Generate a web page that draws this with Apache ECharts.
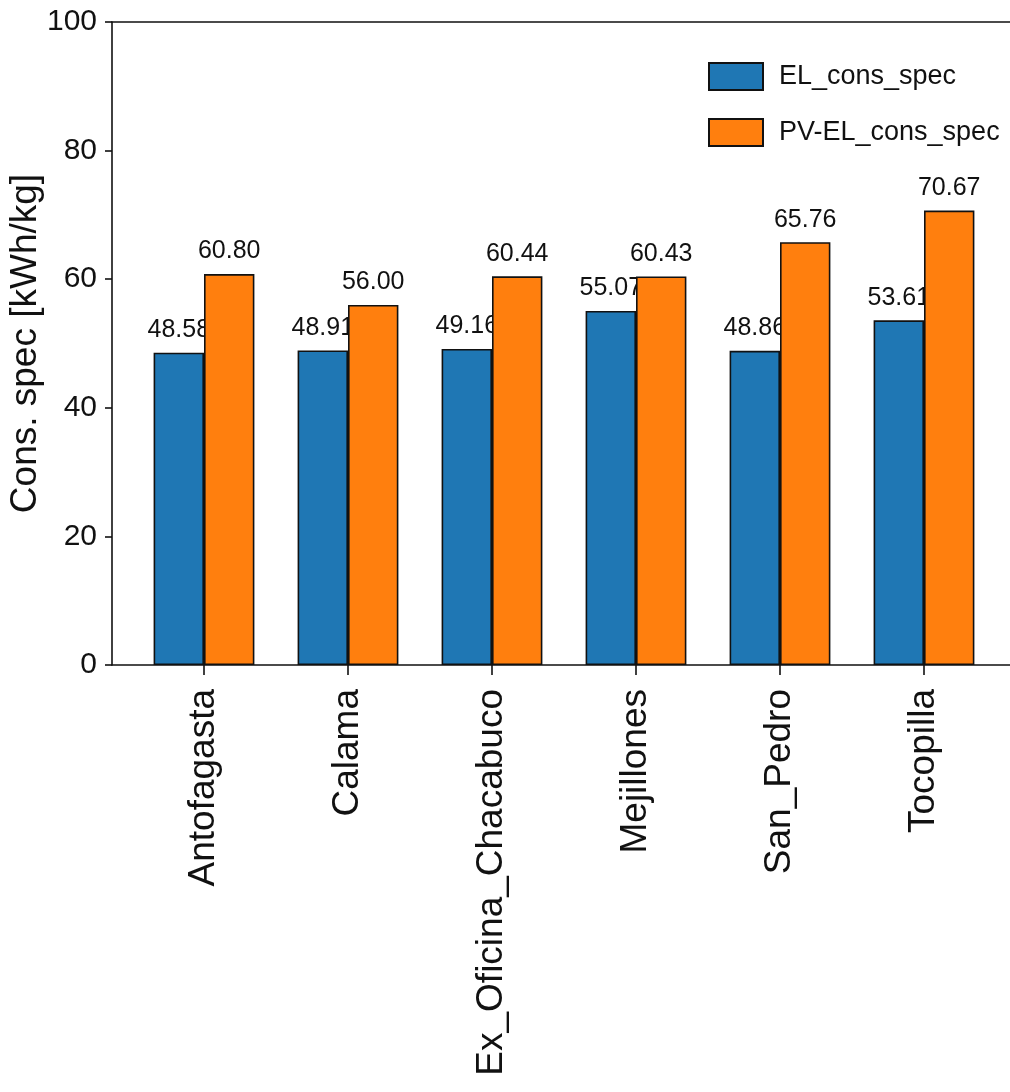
<!DOCTYPE html>
<html>
<head>
<meta charset="utf-8">
<script src="https://cdn.jsdelivr.net/npm/echarts@6/dist/echarts.min.js"></script>
<style>
  html, body { margin: 0; padding: 0; background: #fff; }
  #chart { width: 1010px; height: 1092px; }
</style>
</head>
<body>
<div id="chart"></div>
<script>
// Specific electricity consumption per site
const sites = ['Antofagasta', 'Calama', 'Ex_Oficina_Chacabuco', 'Mejillones', 'San_Pedro', 'Tocopilla'];
const elConsSpec = [48.58, 48.91, 49.16, 55.07, 48.86, 53.61];
const pvElConsSpec = [60.80, 56.00, 60.44, 60.43, 65.76, 70.67];
const yTicks = [0, 20, 40, 60, 80, 100];

const SANS = '"Liberation Sans", Arial, sans-serif';

const chart = echarts.init(document.getElementById('chart'), null, { renderer: 'canvas' });

const barLabel = {
  show: true,
  position: 'top',
  distance: 10,
  formatter: p => p.value.toFixed(2),
  fontFamily: SANS,
  fontSize: 25,
  color: '#111'
};

chart.setOption({
  animation: false,
  backgroundColor: '#fff',
  grid: [
    // frame grid: spines and y scale
    { left: 112, right: -5, top: 22, bottom: 427, containLabel: false, outerBoundsMode: 'none' },
    // bar grid: one band per site
    { left: 132, width: 864, top: 22, bottom: 427, containLabel: false, outerBoundsMode: 'none' }
  ],
  legend: {
    orient: 'vertical',
    left: 703,
    top: 57,
    itemWidth: 54,
    itemHeight: 27,
    itemGap: 27,
    icon: 'rect',
    textStyle: { fontFamily: SANS, fontSize: 27, color: '#111', padding: [0, 0, 0, 11] },
    data: ['EL_cons_spec', 'PV-EL_cons_spec']
  },
  xAxis: [
    {
      gridIndex: 0, type: 'value', min: 0, max: 1, position: 'bottom',
      axisLine: { show: true, lineStyle: { color: '#111', width: 1.6 } },
      axisTick: { show: false }, axisLabel: { show: false }, splitLine: { show: false }
    },
    {
      gridIndex: 0, type: 'value', min: 0, max: 1, position: 'top',
      axisLine: { show: true, lineStyle: { color: '#111', width: 1.6 } },
      axisTick: { show: false }, axisLabel: { show: false }, splitLine: { show: false }
    },
    {
      gridIndex: 1, type: 'category', data: sites, position: 'bottom',
      axisLine: { show: false },
      axisTick: { show: true, alignWithLabel: true, length: 10, lineStyle: { color: '#111', width: 1.6 } },
      axisLabel: { rotate: 90, margin: 24, interval: 0, fontFamily: SANS, fontSize: 37, color: '#111' },
      splitLine: { show: false }
    }
  ],
  yAxis: [
    {
      gridIndex: 0, type: 'value', min: yTicks[0], max: yTicks[yTicks.length - 1], interval: 20,
      name: 'Cons. spec [kWh/kg]', nameLocation: 'middle', nameGap: 68, nameMoveOverlap: false,
      nameTextStyle: { fontFamily: SANS, fontSize: 37, color: '#111' },
      axisLine: { show: true, lineStyle: { color: '#111', width: 1.6 } },
      axisTick: { show: true, length: 7, lineStyle: { color: '#111', width: 1.6 } },
      axisLabel: { margin: 15, fontFamily: SANS, fontSize: 30, color: '#111' },
      splitLine: { show: false }
    },
    {
      gridIndex: 1, type: 'value', min: yTicks[0], max: yTicks[yTicks.length - 1],
      show: false
    }
  ],
  series: [
    {
      name: 'EL_cons_spec', type: 'bar', xAxisIndex: 2, yAxisIndex: 1,
      data: elConsSpec, barWidth: 50.4, barGap: '0%', z: 2,
      itemStyle: { color: '#1f77b4', borderColor: '#111', borderWidth: 1.6 },
      label: barLabel
    },
    {
      name: 'PV-EL_cons_spec', type: 'bar', xAxisIndex: 2, yAxisIndex: 1,
      data: pvElConsSpec, barWidth: 50.4, barGap: '0%', z: 3,
      itemStyle: { color: '#ff7f0e', borderColor: '#111', borderWidth: 1.6 },
      label: barLabel
    }
  ]
});
</script>
</body>
</html>
